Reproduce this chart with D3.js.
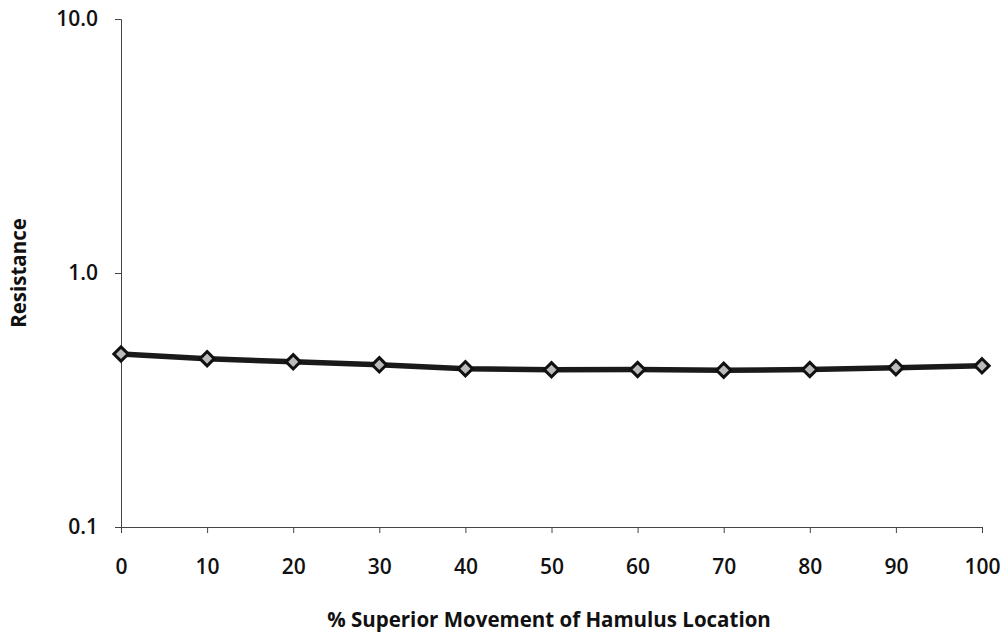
<!DOCTYPE html>
<html>
<head>
<meta charset="utf-8">
<script src="https://cdn.jsdelivr.net/npm/d3@7"></script>
<style>
  body { margin: 0; background: #fff; }
  svg { display: block; }
</style>
</head>
<body>
<svg id="chart" width="1008" height="636"></svg>
<script>
const movement = [0, 10, 20, 30, 40, 50, 60, 70, 80, 90, 100];
const resistance = [0.48, 0.46, 0.447, 0.435, 0.42, 0.416, 0.417, 0.414, 0.417, 0.424, 0.431];
const yTicks = [0.1, 1, 10];

const plotLeft = 121;
const plotRight = 982;
const plotTop = 19;
const plotBottom = 527;
const font = '"Open Sans", "Noto Sans", sans-serif';

const svg = d3.select('#chart');

const x = d3.scaleLinear().domain([0, 100]).range([plotLeft, plotRight]);
const y = d3.scaleLog().domain([0.1, 10]).range([plotBottom, plotTop]);

// axes
const xAxis = d3.axisBottom(x).tickValues(movement).tickSize(6).tickPadding(26).tickFormat(d3.format('d'));
const gx = svg.append('g')
    .attr('transform', `translate(0,${plotBottom})`)
    .call(xAxis);
gx.select('.domain').attr('stroke', '#444');
gx.selectAll('.tick line').attr('stroke', '#444');
gx.selectAll('.tick text')
    .attr('font-family', font)
    .attr('font-size', 21)
    .attr('font-weight', 600)
    .attr('fill', '#111');

const yAxis = d3.axisLeft(y).tickValues(yTicks).tickSize(6).tickPadding(17).tickFormat(d3.format('.1f'));
const gy = svg.append('g')
    .attr('transform', `translate(${plotLeft},0)`)
    .call(yAxis);
gy.select('.domain').attr('stroke', '#444');
gy.selectAll('.tick line').attr('stroke', '#444');
gy.selectAll('.tick text')
    .attr('font-family', font)
    .attr('font-size', 21)
    .attr('font-weight', 600)
    .attr('fill', '#111');

// line
const line = d3.line()
    .x((d, i) => x(movement[i]))
    .y((d) => y(d));

svg.append('path')
    .datum(resistance)
    .attr('fill', 'none')
    .attr('stroke', '#1a1a1a')
    .attr('stroke-width', 5.5)
    .attr('d', line);

// markers
const diamond = d3.symbol().type(d3.symbolDiamond2).size(130);
svg.append('g')
    .selectAll('path')
    .data(resistance)
    .join('path')
    .attr('transform', (d, i) => `translate(${x(movement[i])},${y(d)})`)
    .attr('d', diamond)
    .attr('fill', '#bbb')
    .attr('stroke', '#111')
    .attr('stroke-width', 3);

// titles
svg.append('text')
    .attr('x', 549)
    .attr('y', 627)
    .attr('text-anchor', 'middle')
    .attr('font-family', font)
    .attr('font-size', 20.5)
    .attr('font-weight', 700)
    .attr('fill', '#111')
    .text('% Superior Movement of Hamulus Location');

svg.append('text')
    .attr('transform', `translate(26,273) rotate(-90)`)
    .attr('text-anchor', 'middle')
    .attr('font-family', font)
    .attr('font-size', 20.5)
    .attr('font-weight', 700)
    .attr('fill', '#111')
    .text('Resistance');
</script>
</body>
</html>
